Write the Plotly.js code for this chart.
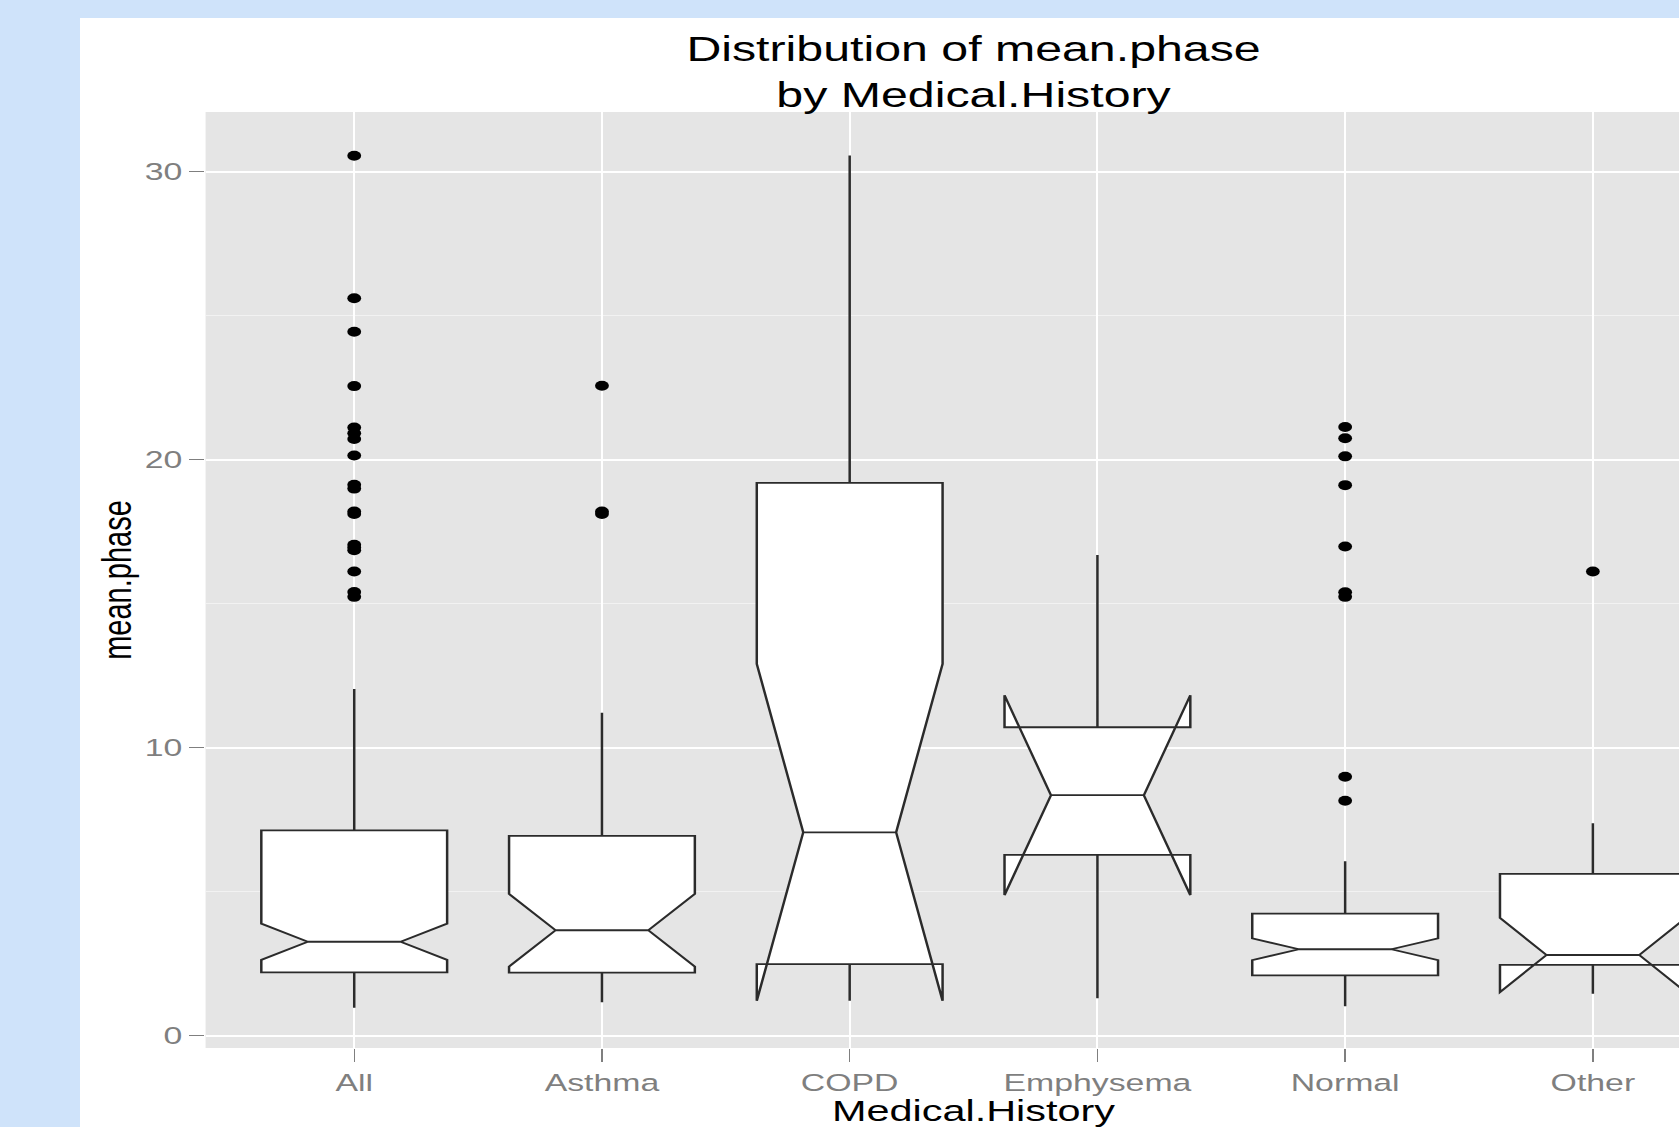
<!DOCTYPE html>
<html>
<head>
<meta charset="utf-8">
<script src="https://cdn.plot.ly/plotly-3.0.1.min.js"></script>
<style>
html, body { margin: 0; padding: 0; width: 1679px; height: 1127px; overflow: hidden; background: #cfe3fa; }
#wrap { position: absolute; left: 80px; top: 18px; width: 1224px; height: 1109px; background: #ffffff;
        transform-origin: 0 0; transform: scaleX(1.38); }
#chart { width: 1224px; height: 1109px; }
</style>
</head>
<body>
<div id="wrap"><div id="chart"></div></div>
<script>
// ---- data ----
const categories    = ['All', 'Asthma', 'COPD', 'Emphysema', 'Normal', 'Other'];
const lowerWhisker  = [0.97, 1.16, 1.47, 1.30, 1.02, 1.45];
const q1Values      = [2.20, 2.19, 2.48, 6.28, 2.09, 2.46];
const medianValues  = [3.26, 3.66, 7.06, 8.35, 3.00, 2.80];
const q3Values      = [7.13, 6.94, 19.20, 10.71, 4.24, 5.62];
const upperWhisker  = [12.04, 11.21, 30.57, 16.69, 6.06, 7.38];
const notchSpan     = [0.63, 1.26, 5.85, 3.47, 0.38, 1.29];

const outliersAll      = [30.56, 25.61, 24.45, 22.56, 21.12, 20.92, 20.72, 20.15, 19.13, 19.0,
                          18.2, 18.12, 17.05, 16.95, 16.86, 16.12, 15.41, 15.24];
const outliersAsthma   = [22.57, 18.2, 18.12];
const outliersCOPD     = [];
const outliersEmphysema = [];
const outliersNormal   = [21.14, 20.75, 20.12, 19.12, 16.99, 15.4, 15.24, 8.99, 8.16];
const outliersOther    = [16.12];

const yTickValues = [0, 10, 20, 30];

const titleText  = 'Distribution of mean.phase<br>by Medical.History';
const xTitleText = 'Medical.History';
const yTitleText = 'mean.phase';

// ---- build traces ----
const outlierGroups = [outliersAll, outliersAsthma, outliersCOPD, outliersEmphysema, outliersNormal, outliersOther];
const outX = [], outY = [];
outlierGroups.forEach((grp, i) => grp.forEach(v => { outX.push(categories[i]); outY.push(v); }));

const boxTrace = {
  type: 'box',
  x: categories,
  q1: q1Values,
  median: medianValues,
  q3: q3Values,
  lowerfence: lowerWhisker,
  upperfence: upperWhisker,
  notchspan: notchSpan,
  notched: true,
  notchwidth: 0.25,
  width: 0.75,
  whiskerwidth: 0,
  boxpoints: false,
  fillcolor: '#ffffff',
  line: { color: '#2b2b2b', width: 1.8 },
  hoverinfo: 'skip',
  showlegend: false
};

const outlierTrace = {
  type: 'scatter',
  mode: 'markers',
  x: outX,
  y: outY,
  marker: { color: '#000000', size: 10 },
  hoverinfo: 'skip',
  showlegend: false
};

const font = 'Liberation Sans, Arial, Helvetica, sans-serif';

const layout = {
  width: 1224,
  height: 1109,
  margin: { l: 91, r: 20, t: 94, b: 79 },
  paper_bgcolor: '#ffffff',
  plot_bgcolor: '#e5e5e5',
  font: { family: font, color: '#000000' },
  showlegend: false,
  title: {
    text: titleText,
    font: { family: font, size: 35, color: '#000000' },
    x: 0.5, xref: 'paper', xanchor: 'center',
    y: 0.961, yref: 'container', yanchor: 'top'
  },
  xaxis: {
    type: 'category',
    categoryarray: categories,
    range: [-0.6, 5.6],
    showgrid: true, gridcolor: '#ffffff', gridwidth: 1.4,
    zeroline: false, showline: false,
    ticks: 'outside', ticklen: 13, tickwidth: 1, tickcolor: '#7f7f7f',
    tickfont: { family: font, size: 24.5, color: '#7f7f7f' },
    title: { text: xTitleText, font: { family: font, size: 30, color: '#000000' }, standoff: 3 },
    automargin: false
  },
  yaxis: {
    range: [-0.43, 32.08],
    tickmode: 'array', tickvals: yTickValues,
    showgrid: true, gridcolor: '#ffffff', gridwidth: 2,
    minor: { tick0: 0, dtick: 5, showgrid: true, gridcolor: '#f2f2f2', gridwidth: 1, ticks: '' },
    zeroline: false, showline: false,
    ticks: 'outside', ticklen: 11, tickwidth: 1, tickcolor: '#7f7f7f',
    tickfont: { family: font, size: 24.5, color: '#7f7f7f' },
    ticklabelstandoff: 0,
    title: { text: yTitleText, font: { family: font, size: 29, color: '#000000' }, standoff: 0 },
    automargin: false
  }
};

Plotly.newPlot('chart', [boxTrace, outlierTrace], layout, { staticPlot: true, displayModeBar: false });
</script>
</body>
</html>
